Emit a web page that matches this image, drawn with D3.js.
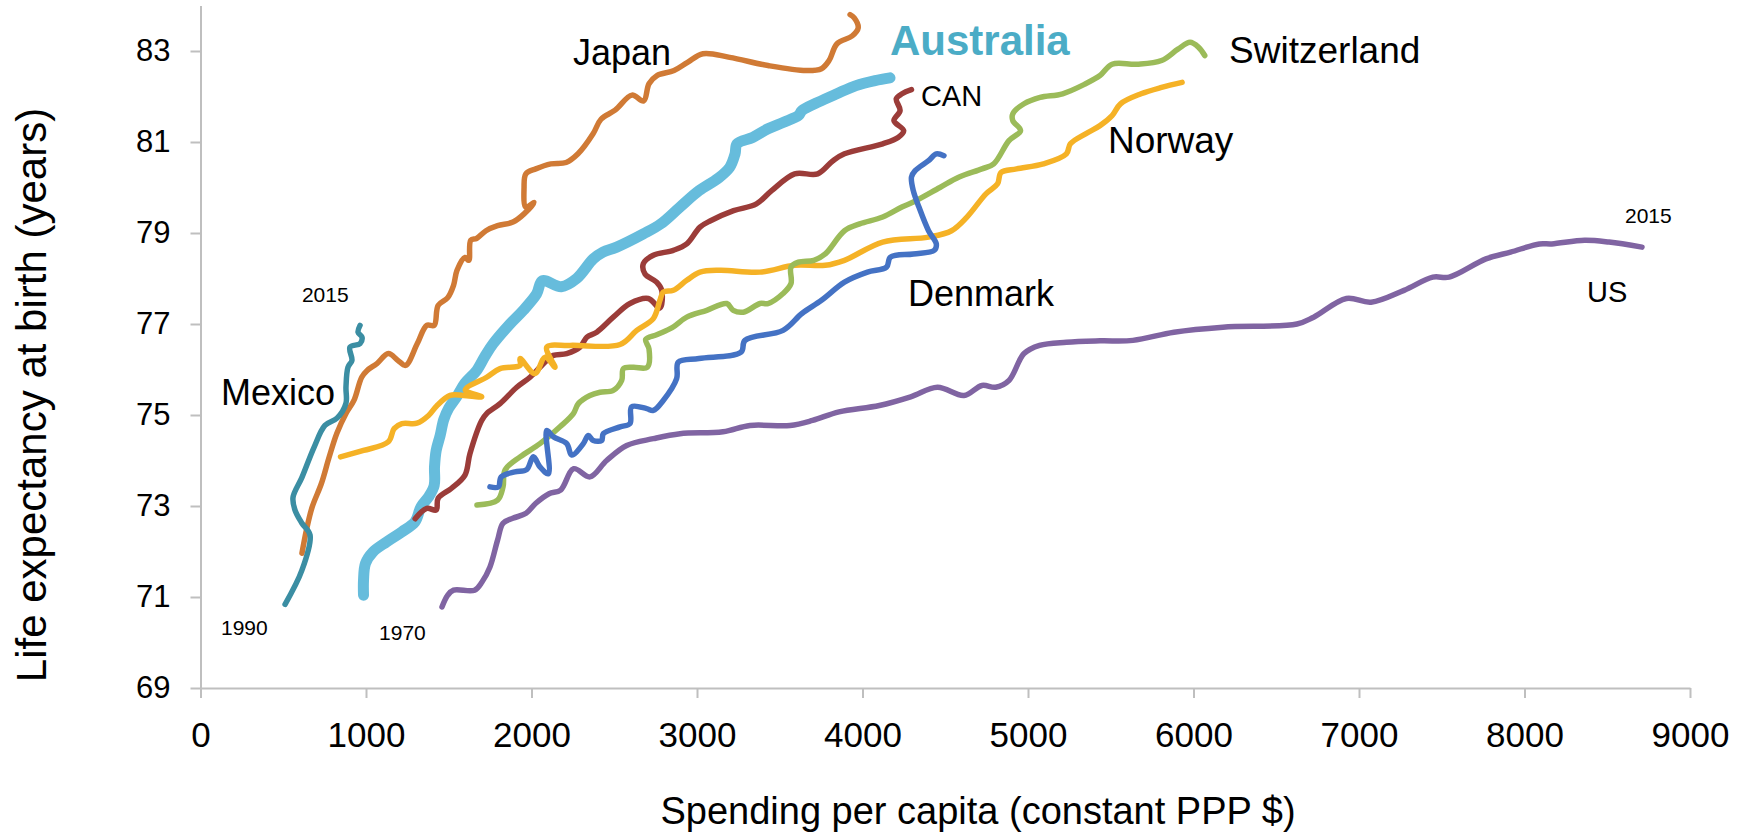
<!DOCTYPE html>
<html>
<head>
<meta charset="utf-8">
<script src="https://cdn.jsdelivr.net/npm/d3@7"></script>
<style>
  html, body { margin: 0; padding: 0; background: #fff; }
  svg text { font-family: "Liberation Sans", Arial, sans-serif; fill: #000; }
  .axis path, .axis line { stroke: #bfbfbf; stroke-width: 2; }
</style>
</head>
<body>
<div id="chart"></div>
<script>
// [spending per capita, life expectancy], one point per year-ish
const mexico = [[511,70.84],[613,71.59],[662,72.36],[613,72.62],[571,72.91],[559,73.19],[613,73.63],[686,74.29],[752,74.77],[825,74.93],[879,75.26],[879,75.61],[891,76.05],[915,76.2],[903,76.49],[964,76.57],[976,76.71],[952,76.82],[964,76.97]];

const japan = [[613,71.96],[640,72.47],[674,72.97],[731,73.5],[777,74.07],[824,74.6],[880,75.04],[927,75.32],[974,75.83],[1007,75.98],[1066,76.13],[1135,76.35],[1193,76.2],[1239,76.09],[1310,76.57],[1367,76.97],[1412,76.97],[1436,77.41],[1494,77.58],[1529,77.85],[1550,78.18],[1598,78.46],[1621,78.4],[1633,78.84],[1668,78.88],[1725,79.05],[1795,79.16],[1888,79.24],[1955,79.42],[2015,79.67],[1966,79.57],[1955,80.0],[1966,80.3],[2026,80.41],[2117,80.52],[2209,80.55],[2281,80.74],[2372,81.18],[2420,81.5],[2505,81.7],[2607,82.03],[2677,81.9],[2710,82.28],[2758,82.46],[2861,82.57],[2943,82.75],[3036,82.94],[3197,82.86],[3429,82.68],[3659,82.57],[3752,82.61],[3798,82.79],[3846,83.16],[3937,83.33],[3974,83.51],[3950,83.73],[3925,83.8]];

const australia = [[985,71.04],[985,71.37],[997,71.74],[1042,71.99],[1124,72.21],[1216,72.43],[1296,72.65],[1332,72.98],[1378,73.2],[1412,73.45],[1414,73.86],[1424,74.22],[1448,74.55],[1470,74.9],[1500,75.15],[1548,75.4],[1598,75.7],[1669,75.98],[1720,76.3],[1769,76.57],[1870,77.0],[1950,77.3],[2031,77.66],[2065,77.95],[2180,77.82],[2273,78.0],[2373,78.43],[2432,78.58],[2515,78.69],[2676,78.98],[2781,79.2],[2897,79.57],[3012,79.93],[3127,80.2],[3197,80.44],[3230,80.74],[3242,80.96],[3336,81.1],[3429,81.29],[3520,81.43],[3613,81.58],[3634,81.69],[3729,81.87],[3845,82.06],[3961,82.24],[4076,82.35],[4166,82.41]];

const canada = [[1297,72.72],[1367,72.95],[1424,72.91],[1436,73.17],[1517,73.39],[1598,73.68],[1628,74.15],[1699,74.88],[1729,75.03],[1810,75.25],[1911,75.61],[1991,75.83],[2051,76.05],[2092,76.2],[2132,76.31],[2213,76.35],[2293,76.49],[2334,76.71],[2394,76.82],[2494,77.15],[2595,77.45],[2706,77.56],[2776,77.35],[2787,77.74],[2756,77.92],[2686,78.1],[2676,78.33],[2736,78.51],[2857,78.62],[2938,78.76],[3018,79.13],[3082,79.27],[3221,79.49],[3359,79.64],[3451,79.93],[3590,80.3],[3729,80.3],[3822,80.59],[3891,80.74],[4122,80.96],[4215,81.1],[4249,81.25],[4190,81.47],[4227,81.69],[4204,81.95],[4239,82.06],[4296,82.15]];

const norway = [[846,74.08],[985,74.22],[1135,74.41],[1170,74.7],[1217,74.81],[1308,74.82],[1378,74.99],[1427,75.2],[1508,75.43],[1588,75.43],[1699,75.4],[1600,75.55],[1729,75.83],[1810,76.02],[1931,76.09],[1931,76.24],[2021,75.91],[2082,76.27],[2142,76.05],[2092,76.49],[2233,76.53],[2535,76.55],[2636,76.86],[2736,77.12],[2776,77.52],[2796,77.7],[2857,77.74],[2938,77.96],[3018,78.14],[3139,78.18],[3381,78.14],[3590,78.29],[3775,78.29],[3891,78.4],[4122,78.8],[4399,78.91],[4538,79.05],[4631,79.35],[4746,79.86],[4816,80.08],[4837,80.33],[4931,80.41],[5093,80.52],[5232,80.74],[5256,80.96],[5348,81.18],[5435,81.36],[5508,81.58],[5559,81.84],[5683,82.06],[5807,82.2],[5931,82.31]];

const switzerland = [[1670,73.02],[1795,73.13],[1828,73.42],[1840,73.79],[1931,74.08],[2051,74.37],[2172,74.74],[2253,75.03],[2283,75.25],[2353,75.43],[2414,75.5],[2494,75.54],[2545,75.76],[2555,76.02],[2615,76.05],[2700,76.05],[2710,76.45],[2690,76.66],[2760,76.77],[2850,76.92],[2938,77.15],[3059,77.3],[3180,77.45],[3219,77.3],[3280,77.26],[3381,77.45],[3429,77.45],[3520,77.67],[3568,77.89],[3568,78.25],[3613,78.36],[3706,78.4],[3775,78.54],[3891,79.05],[3983,79.2],[4122,79.35],[4238,79.57],[4307,79.68],[4468,80.0],[4584,80.23],[4722,80.41],[4793,80.52],[4885,81.03],[4955,81.25],[4908,81.47],[4908,81.62],[4976,81.84],[5073,81.98],[5209,82.06],[5348,82.28],[5435,82.46],[5508,82.71],[5659,82.71],[5807,82.79],[5906,83.04],[5979,83.19],[6031,83.08],[6068,82.9]];

const denmark = [[1749,73.42],[1800,73.42],[1817,73.64],[1900,73.75],[1971,73.8],[2011,74.08],[2051,73.86],[2102,73.71],[2092,74.66],[2132,74.52],[2213,74.37],[2243,74.12],[2313,74.37],[2343,74.55],[2373,74.44],[2424,74.44],[2434,74.59],[2535,74.74],[2595,74.81],[2605,75.18],[2696,75.14],[2736,75.1],[2796,75.32],[2877,75.8],[2887,76.16],[3012,76.24],[3266,76.38],[3290,76.64],[3520,76.86],[3634,77.23],[3752,77.52],[3891,77.92],[4030,78.14],[4145,78.25],[4169,78.47],[4307,78.54],[4434,78.62],[4446,78.76],[4399,79.05],[4341,79.57],[4307,79.93],[4296,80.23],[4318,80.37],[4399,80.59],[4446,80.74],[4492,80.7]];

const us = [[1459,70.78],[1494,71.04],[1529,71.15],[1656,71.15],[1701,71.33],[1749,71.66],[1795,72.25],[1828,72.62],[1887,72.73],[1967,72.84],[2026,73.06],[2106,73.27],[2176,73.35],[2255,73.82],[2353,73.64],[2454,74.0],[2575,74.33],[2736,74.48],[2897,74.59],[3157,74.63],[3320,74.77],[3562,74.77],[3698,74.88],[3858,75.07],[4102,75.21],[4291,75.4],[4453,75.61],[4613,75.43],[4722,75.65],[4804,75.61],[4885,75.76],[4976,76.35],[5070,76.53],[5232,76.6],[5435,76.63],[5634,76.64],[5882,76.82],[6178,76.93],[6625,77.0],[6726,77.15],[6924,77.56],[7073,77.48],[7272,77.74],[7446,78.03],[7545,78.03],[7767,78.43],[7916,78.58],[8090,78.76],[8165,78.76],[8363,78.84],[8511,78.8],[8710,78.69]];

// draw order = stacking order in the original
const seriesNames = ["Japan", "Mexico", "Australia", "CAN", "Norway", "Switzerland", "Denmark", "US"];
const seriesValues = [japan, mexico, australia, canada, norway, switzerland, denmark, us];
const seriesColors = ["#d07a35", "#3b8ea3", "#66bcdc", "#9b3c39", "#f5b226", "#9bbb59", "#4472c4", "#8064a2"];

const xTicks = [0, 1000, 2000, 3000, 4000, 5000, 6000, 7000, 8000, 9000];
const yTicks = [69, 71, 73, 75, 77, 79, 81, 83];

// annotations: text, spending, life expectancy
const labelText = ["Japan", "Australia", "CAN", "Switzerland", "Norway", "Denmark", "US", "2015", "Mexico", "2015", "1990", "1970"];
const labelX = [2251, 4166, 4353, 6215, 5483, 4275, 8378, 8607, 124, 613, 124, 1079];
const labelY = [82.69, 82.91, 81.79, 82.74, 80.76, 77.4, 77.48, 79.22, 75.22, 77.48, 70.16, 70.05];

const width = 1744, height = 835;
const margin = { top: 5.5, right: 54, bottom: 147, left: 200.5 };

const svg = d3.select("#chart").append("svg")
  .attr("width", width)
  .attr("height", height);

const x = d3.scaleLinear().domain([0, 9000]).range([margin.left, width - margin.right]);
const y = d3.scaleLinear().domain([69, 84]).range([height - margin.bottom, margin.top]);

// axes
svg.append("g")
  .attr("class", "axis")
  .attr("transform", `translate(0,${height - margin.bottom})`)
  .call(d3.axisBottom(x).tickValues(xTicks).tickSize(10).tickSizeOuter(0).tickPadding(24).tickFormat(d3.format("d")))
  .call(g => g.selectAll("text").style("font-size", "35px"));

svg.append("g")
  .attr("class", "axis")
  .attr("transform", `translate(${margin.left},0)`)
  .call(d3.axisLeft(y).tickValues(yTicks).tickSize(10).tickSizeOuter(0).tickPadding(20))
  .call(g => g.selectAll("text").style("font-size", "31px"));

// lines
const line = d3.line()
  .x(d => x(d[0]))
  .y(d => y(d[1]))
  .curve(d3.curveCatmullRom.alpha(0.5));

seriesValues.forEach((vals, i) => {
  svg.append("path")
    .datum(vals)
    .attr("d", line)
    .attr("fill", "none")
    .attr("stroke", seriesColors[i])
    .attr("stroke-width", seriesNames[i] === "Australia" ? 11 : 5.5)
    .attr("stroke-linecap", "round")
    .attr("stroke-linejoin", "round");
});

// labels
const labelSize = [36, 42, 29, 37, 37, 36, 29, 21, 36, 21, 21, 21];
svg.selectAll("text.lbl")
  .data(labelText)
  .enter()
  .append("text")
  .attr("class", "lbl")
  .attr("x", (d, i) => x(labelX[i]))
  .attr("y", (d, i) => y(labelY[i]))
  .style("font-size", (d, i) => labelSize[i] + "px")
  .style("font-weight", d => d === "Australia" ? "bold" : "normal")
  .style("fill", d => d === "Australia" ? "#4bacc6" : "#000")
  .text(d => d);

// axis titles
svg.append("text")
  .attr("x", 978)
  .attr("y", 824)
  .attr("text-anchor", "middle")
  .style("font-size", "38px")
  .text("Spending per capita (constant PPP $)");

svg.append("text")
  .attr("transform", "translate(46,395) rotate(-90)")
  .attr("text-anchor", "middle")
  .style("font-size", "42px")
  .text("Life expectancy at birth (years)");
</script>
</body>
</html>
